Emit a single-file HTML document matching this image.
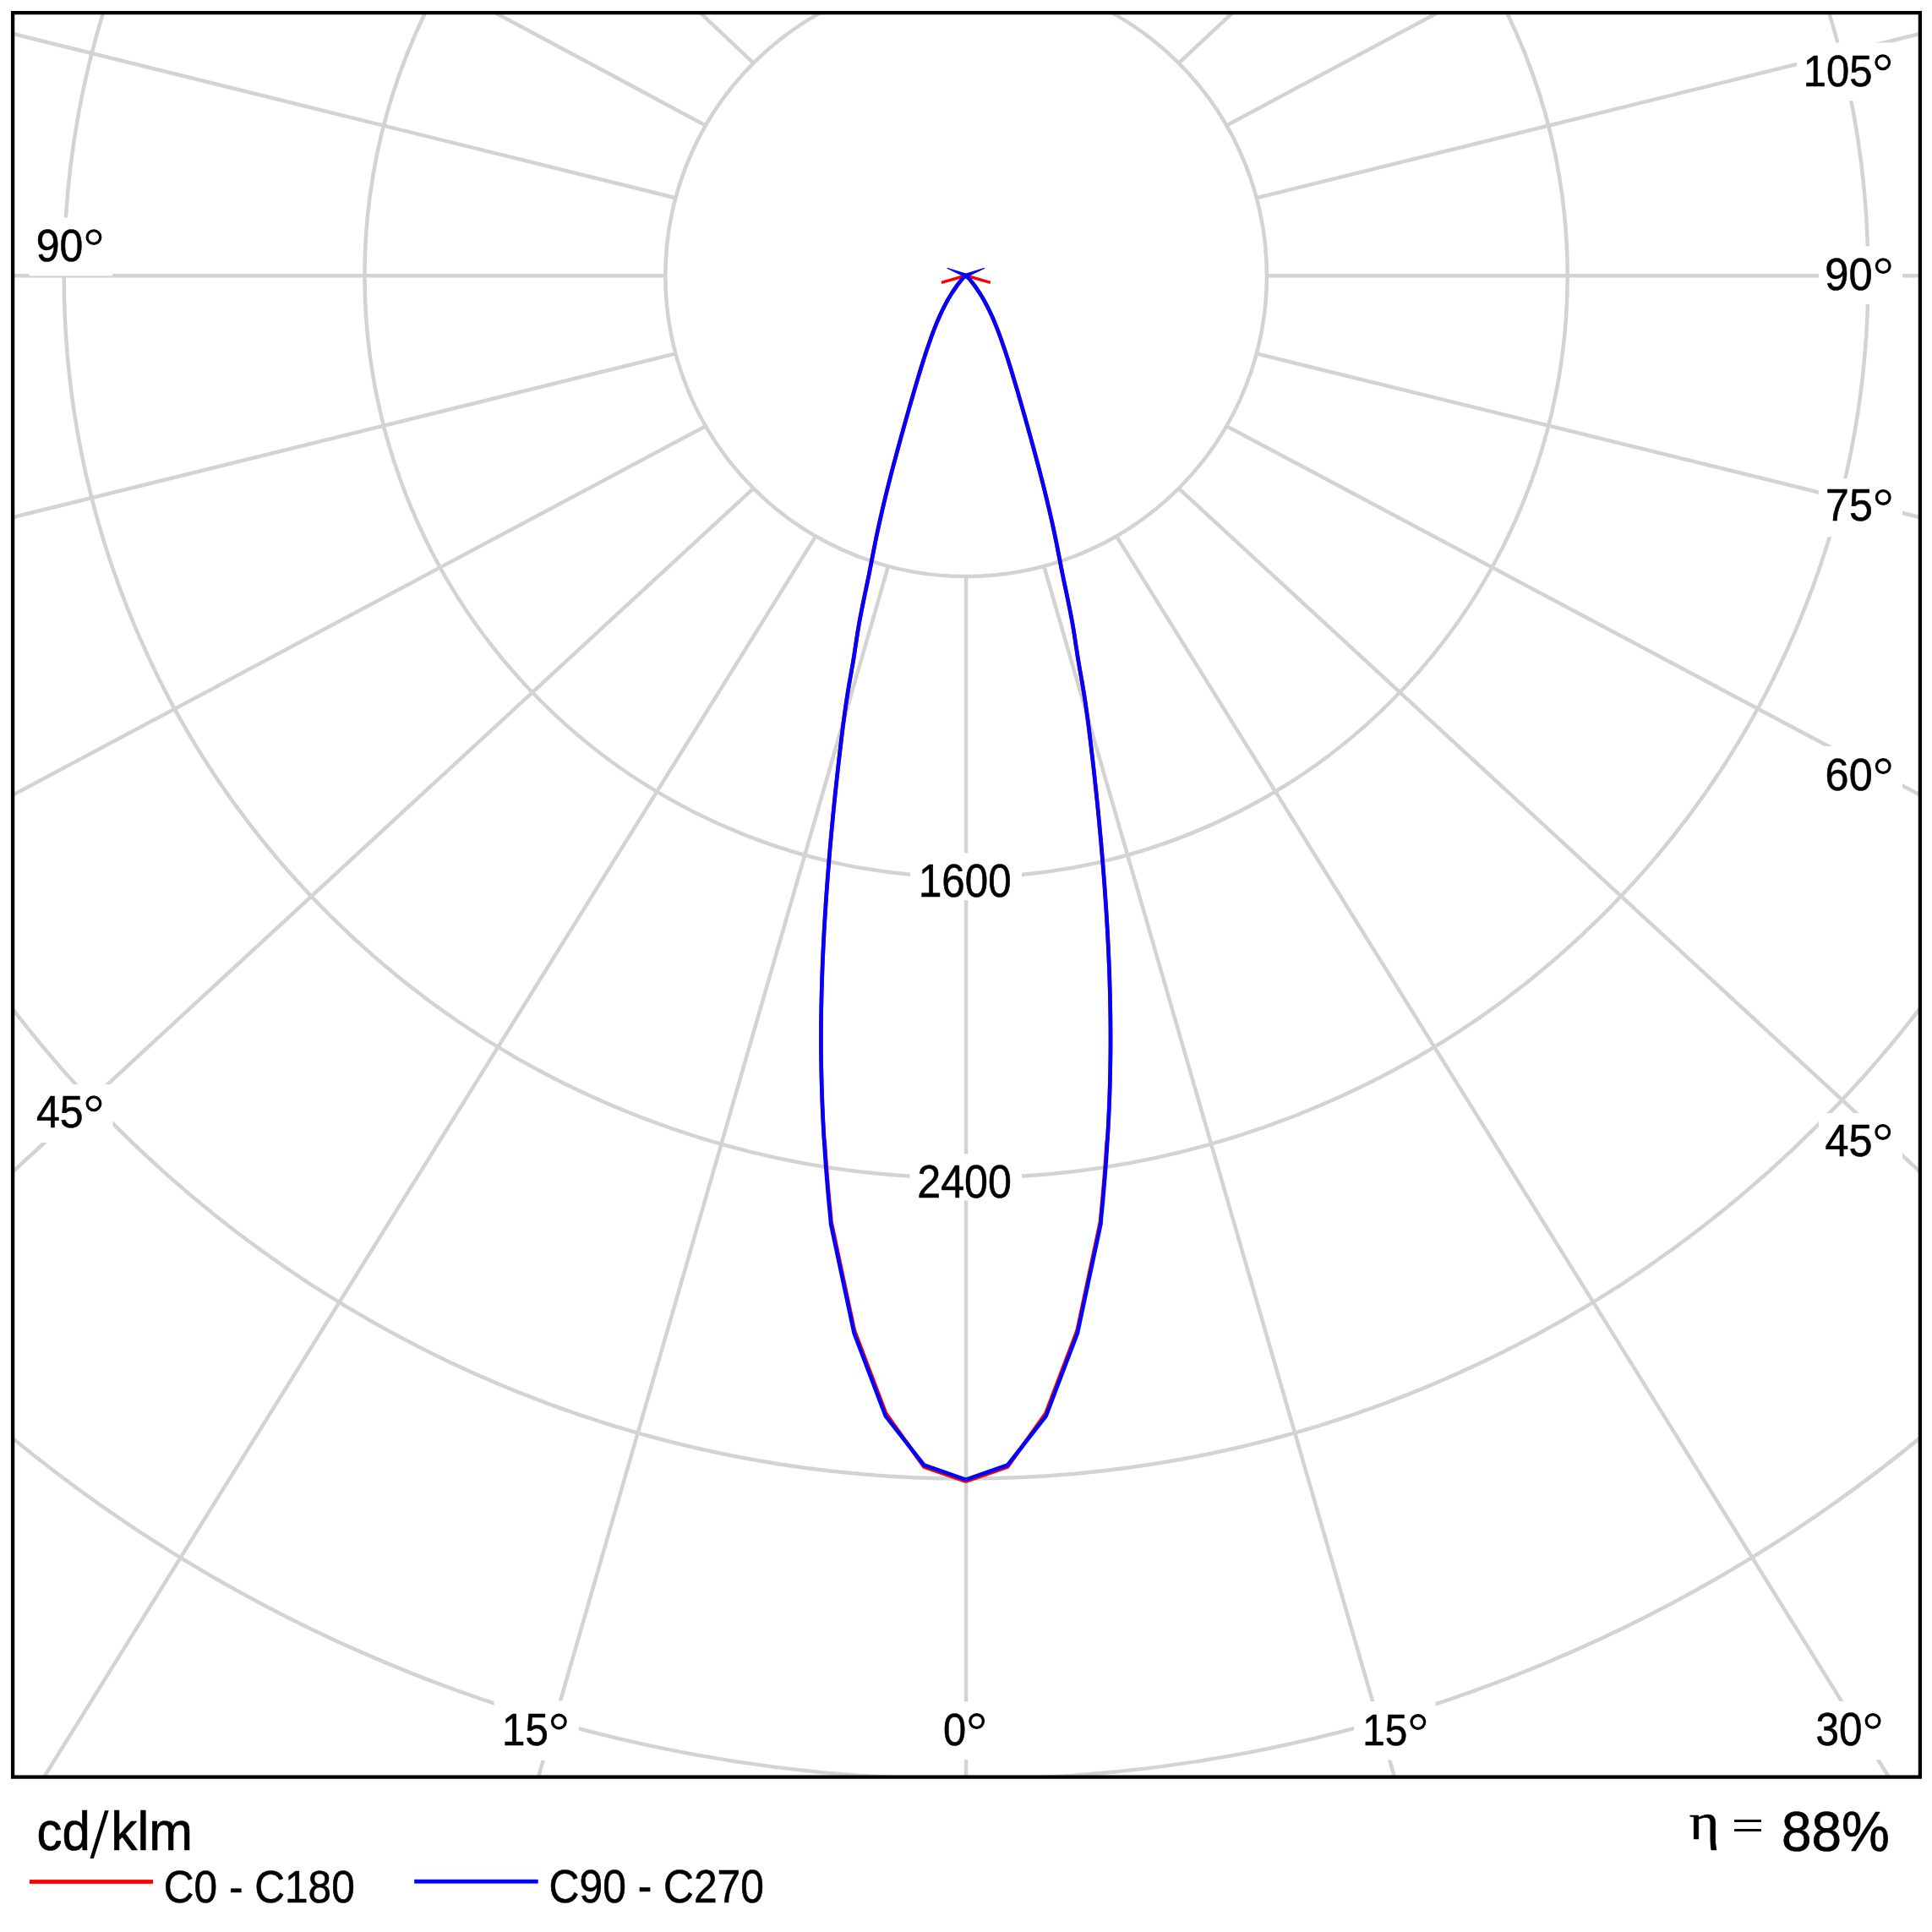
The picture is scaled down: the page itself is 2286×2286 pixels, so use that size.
<!DOCTYPE html><html><head><meta charset="utf-8"><title>Polar diagram</title>
<style>html,body{margin:0;padding:0;background:#fff;}svg{display:block;}</style></head><body>
<svg xmlns="http://www.w3.org/2000/svg" width="2286" height="2286" viewBox="0 0 2286 2286">
<defs><clipPath id="fr"><rect x="15" y="15" width="2257" height="2088"/></clipPath></defs>
<rect x="0" y="0" width="2286" height="2286" fill="#fff"/>
<g clip-path="url(#fr)" fill="none" stroke="#d3d3d3" stroke-width="4.5">
<circle cx="1143.1" cy="326.3" r="355.8"/>
<circle cx="1143.1" cy="326.3" r="711.6"/>
<circle cx="1143.1" cy="326.3" r="1067.4"/>
<circle cx="1143.1" cy="326.3" r="1423.2"/>
<circle cx="1143.1" cy="326.3" r="1779"/>
<line x1="1051.01" y1="669.98" x2="636.6" y2="2104"/>
<line x1="1235.19" y1="669.98" x2="1650.4" y2="2104"/>
<line x1="965.2" y1="634.43" x2="51.3" y2="2104"/>
<line x1="1321" y1="634.43" x2="2235.7" y2="2104"/>
<line x1="891.51" y1="577.89" x2="13" y2="1388.5"/>
<line x1="1394.69" y1="577.89" x2="2274" y2="1388.5"/>
<line x1="834.97" y1="504.2" x2="13" y2="941.8"/>
<line x1="1451.23" y1="504.2" x2="2274" y2="941.8"/>
<line x1="799.42" y1="418.39" x2="13" y2="612.6"/>
<line x1="1486.78" y1="418.39" x2="2274" y2="612.6"/>
<line x1="799.42" y1="234.21" x2="13" y2="39.4"/>
<line x1="1486.78" y1="234.21" x2="2274" y2="39.4"/>
<line x1="834.97" y1="148.4" x2="582" y2="13"/>
<line x1="1451.23" y1="148.4" x2="1705" y2="13"/>
<line x1="891.51" y1="74.71" x2="826.3" y2="13"/>
<line x1="1394.69" y1="74.71" x2="1460.7" y2="13"/>
<line x1="13" y1="326.3" x2="787.3" y2="326.3"/>
<line x1="1498.9" y1="326.3" x2="2274" y2="326.3"/>
<line x1="1143.1" y1="682.1" x2="1143.1" y2="2104"/>
</g>
<g fill="#fff">
<rect x="34.5" y="257.5" width="98.5" height="68.8"/>
<rect x="34.5" y="1283" width="99" height="69"/>
<rect x="2126" y="50.5" width="125" height="68.7"/>
<rect x="2152" y="291.3" width="99" height="68.8"/>
<rect x="2152" y="566" width="99" height="69.3"/>
<rect x="2152" y="883" width="99" height="69"/>
<rect x="2152" y="1317" width="99" height="68"/>
<rect x="2139" y="2013" width="99" height="69.3"/>
<rect x="584.6" y="2012.5" width="100.2" height="70.3"/>
<rect x="1105" y="2013.3" width="76" height="69"/>
<rect x="1601.9" y="2013" width="96.8" height="69.5"/>
<rect x="1077" y="1009.4" width="132" height="55.9"/>
<rect x="1076.6" y="1365.3" width="132.5" height="55.1"/>
</g>
<g fill="none" stroke-width="4.6" stroke-linejoin="round">
<path stroke="#f00" d="M1143.00,325.90 L1139.37,329.05 L1136.06,333.10 L1132.93,337.21 L1129.94,341.37 L1127.11,345.60 L1124.41,349.88 L1121.85,354.20 L1119.41,358.57 L1117.08,362.99 L1114.87,367.45 L1112.75,371.94 L1110.72,376.47 L1108.78,381.03 L1106.91,385.62 L1105.10,390.24 L1103.36,394.88 L1101.66,399.53 L1100.01,404.21 L1098.39,408.90 L1096.80,413.60 L1095.24,418.31 L1093.70,423.04 L1092.19,427.77 L1090.69,432.52 L1089.22,437.27 L1087.76,442.04 L1086.32,446.81 L1084.89,451.60 L1083.48,456.39 L1082.07,461.19 L1080.67,466.00 L1079.28,470.81 L1077.89,475.63 L1076.50,480.46 L1075.12,485.29 L1073.75,490.13 L1072.38,494.97 L1071.01,499.82 L1069.65,504.67 L1068.30,509.52 L1066.95,514.38 L1065.61,519.24 L1064.28,524.10 L1062.95,528.96 L1061.63,533.82 L1060.32,538.69 L1059.02,543.56 L1057.73,548.42 L1056.45,553.29 L1055.17,558.16 L1053.91,563.03 L1052.66,567.91 L1051.43,572.78 L1050.20,577.65 L1048.99,582.53 L1047.79,587.41 L1046.61,592.29 L1045.45,597.17 L1044.30,602.05 L1043.16,606.93 L1042.05,611.82 L1040.95,616.70 L1039.87,621.59 L1038.81,626.48 L1037.77,631.37 L1036.75,636.26 L1035.76,641.15 L1034.78,646.05 L1033.82,650.94 L1032.87,655.84 L1031.93,660.74 L1030.98,665.64 L1030.03,670.54 L1029.07,675.44 L1028.09,680.35 L1027.09,685.26 L1026.07,690.17 L1025.05,695.08 L1024.02,699.99 L1022.99,704.90 L1021.97,709.82 L1020.96,714.73 L1019.96,719.65 L1018.99,724.57 L1018.04,729.50 L1017.12,734.42 L1016.24,739.34 L1015.40,744.27 L1014.60,749.20 L1013.84,754.13 L1013.10,759.07 L1012.36,764.00 L1011.62,768.94 L1010.87,773.88 L1010.08,778.82 L1009.26,783.76 L1008.41,788.70 L1007.55,793.65 L1006.67,798.59 L1005.80,803.54 L1004.93,808.49 L1004.09,813.44 L1003.27,818.39 L1002.48,823.35 L1001.72,828.30 L1000.98,833.26 L1000.27,838.22 L999.58,843.18 L998.91,848.14 L998.25,853.11 L997.61,858.07 L996.98,863.04 L996.37,868.00 L995.76,872.97 L995.15,877.94 L994.56,882.91 L993.97,887.88 L993.38,892.86 L992.81,897.83 L992.24,902.81 L991.67,907.79 L991.12,912.76 L990.57,917.74 L990.02,922.72 L989.49,927.70 L988.96,932.69 L988.43,937.67 L987.92,942.66 L987.41,947.64 L986.90,952.63 L986.41,957.62 L985.92,962.60 L985.43,967.59 L984.96,972.58 L984.49,977.58 L984.03,982.57 L983.57,987.56 L983.12,992.56 L982.68,997.55 L982.24,1002.55 L981.81,1007.54 L981.39,1012.54 L980.97,1017.54 L980.57,1022.54 L980.17,1027.53 L979.77,1032.53 L979.38,1037.54 L979.01,1042.54 L978.63,1047.54 L978.27,1052.54 L977.91,1057.54 L977.57,1062.55 L977.23,1067.55 L976.90,1072.56 L976.57,1077.56 L976.26,1082.57 L975.95,1087.57 L975.66,1092.58 L975.37,1097.58 L975.09,1102.59 L974.82,1107.60 L974.56,1112.61 L974.31,1117.62 L974.07,1122.62 L973.84,1127.63 L973.62,1132.64 L973.41,1137.65 L973.21,1142.66 L973.02,1147.67 L972.84,1152.68 L972.67,1157.69 L972.51,1162.70 L972.36,1167.71 L972.22,1172.72 L972.09,1177.73 L971.98,1182.74 L971.88,1187.75 L971.78,1192.76 L971.70,1197.77 L971.63,1202.78 L971.58,1207.79 L971.53,1212.80 L971.50,1217.82 L971.48,1222.83 L971.47,1227.84 L971.47,1232.85 L971.49,1237.86 L971.52,1242.87 L971.56,1247.87 L971.62,1252.88 L971.68,1257.89 L971.77,1262.90 L971.86,1267.91 L971.97,1272.92 L972.09,1277.93 L972.22,1282.93 L972.36,1287.94 L972.52,1292.95 L972.69,1297.95 L972.87,1302.96 L973.07,1307.97 L973.27,1312.97 L973.49,1317.98 L973.72,1322.98 L973.97,1327.98 L974.22,1332.99 L974.49,1337.99 L974.77,1342.99 L975.06,1347.99 L975.78,1350.43 L976.09,1355.41 L976.42,1360.40 L976.75,1365.39 L977.10,1370.37 L977.46,1375.36 L977.82,1380.34 L978.20,1385.32 L978.60,1390.31 L979.00,1395.29 L979.41,1400.27 L979.83,1405.25 L980.27,1410.23 L980.71,1415.21 L981.17,1420.18 L981.64,1425.16 L982.11,1430.13 L982.60,1435.11 L983.10,1440.08 L983.40,1445.10 L1010.93,1574.37 L1048.14,1672.33 L1093.23,1735.47 L1143.10,1752.89"/>
<path stroke="#f00" d="M1142.50,325.90 L1146.13,329.05 L1149.44,333.10 L1152.57,337.21 L1155.56,341.37 L1158.39,345.60 L1161.09,349.88 L1163.65,354.20 L1166.09,358.57 L1168.42,362.99 L1170.63,367.45 L1172.75,371.94 L1174.78,376.47 L1176.72,381.03 L1178.59,385.62 L1180.40,390.24 L1182.14,394.88 L1183.84,399.53 L1185.49,404.21 L1187.11,408.90 L1188.70,413.60 L1190.26,418.31 L1191.80,423.04 L1193.31,427.77 L1194.81,432.52 L1196.28,437.27 L1197.74,442.04 L1199.18,446.81 L1200.61,451.60 L1202.02,456.39 L1203.43,461.19 L1204.83,466.00 L1206.22,470.81 L1207.61,475.63 L1209.00,480.46 L1210.38,485.29 L1211.75,490.13 L1213.12,494.97 L1214.49,499.82 L1215.85,504.67 L1217.20,509.52 L1218.55,514.38 L1219.89,519.24 L1221.22,524.10 L1222.55,528.96 L1223.87,533.82 L1225.18,538.69 L1226.48,543.56 L1227.77,548.42 L1229.05,553.29 L1230.33,558.16 L1231.59,563.03 L1232.84,567.91 L1234.07,572.78 L1235.30,577.65 L1236.51,582.53 L1237.71,587.41 L1238.89,592.29 L1240.05,597.17 L1241.20,602.05 L1242.34,606.93 L1243.45,611.82 L1244.55,616.70 L1245.63,621.59 L1246.69,626.48 L1247.73,631.37 L1248.75,636.26 L1249.74,641.15 L1250.72,646.05 L1251.68,650.94 L1252.63,655.84 L1253.57,660.74 L1254.52,665.64 L1255.47,670.54 L1256.43,675.44 L1257.41,680.35 L1258.41,685.26 L1259.43,690.17 L1260.45,695.08 L1261.48,699.99 L1262.51,704.90 L1263.53,709.82 L1264.54,714.73 L1265.54,719.65 L1266.51,724.57 L1267.46,729.50 L1268.38,734.42 L1269.26,739.34 L1270.10,744.27 L1270.90,749.20 L1271.66,754.13 L1272.40,759.07 L1273.14,764.00 L1273.88,768.94 L1274.63,773.88 L1275.42,778.82 L1276.24,783.76 L1277.09,788.70 L1277.95,793.65 L1278.83,798.59 L1279.70,803.54 L1280.57,808.49 L1281.41,813.44 L1282.23,818.39 L1283.02,823.35 L1283.78,828.30 L1284.52,833.26 L1285.23,838.22 L1285.92,843.18 L1286.59,848.14 L1287.25,853.11 L1287.89,858.07 L1288.52,863.04 L1289.13,868.00 L1289.74,872.97 L1290.35,877.94 L1290.94,882.91 L1291.53,887.88 L1292.12,892.86 L1292.69,897.83 L1293.26,902.81 L1293.83,907.79 L1294.38,912.76 L1294.93,917.74 L1295.48,922.72 L1296.01,927.70 L1296.54,932.69 L1297.07,937.67 L1297.58,942.66 L1298.09,947.64 L1298.60,952.63 L1299.09,957.62 L1299.58,962.60 L1300.07,967.59 L1300.54,972.58 L1301.01,977.58 L1301.47,982.57 L1301.93,987.56 L1302.38,992.56 L1302.82,997.55 L1303.26,1002.55 L1303.69,1007.54 L1304.11,1012.54 L1304.53,1017.54 L1304.93,1022.54 L1305.33,1027.53 L1305.73,1032.53 L1306.12,1037.54 L1306.49,1042.54 L1306.87,1047.54 L1307.23,1052.54 L1307.59,1057.54 L1307.93,1062.55 L1308.27,1067.55 L1308.60,1072.56 L1308.93,1077.56 L1309.24,1082.57 L1309.55,1087.57 L1309.84,1092.58 L1310.13,1097.58 L1310.41,1102.59 L1310.68,1107.60 L1310.94,1112.61 L1311.19,1117.62 L1311.43,1122.62 L1311.66,1127.63 L1311.88,1132.64 L1312.09,1137.65 L1312.29,1142.66 L1312.48,1147.67 L1312.66,1152.68 L1312.83,1157.69 L1312.99,1162.70 L1313.14,1167.71 L1313.28,1172.72 L1313.41,1177.73 L1313.52,1182.74 L1313.62,1187.75 L1313.72,1192.76 L1313.80,1197.77 L1313.87,1202.78 L1313.92,1207.79 L1313.97,1212.80 L1314.00,1217.82 L1314.02,1222.83 L1314.03,1227.84 L1314.03,1232.85 L1314.01,1237.86 L1313.98,1242.87 L1313.94,1247.87 L1313.88,1252.88 L1313.82,1257.89 L1313.73,1262.90 L1313.64,1267.91 L1313.53,1272.92 L1313.41,1277.93 L1313.28,1282.93 L1313.14,1287.94 L1312.98,1292.95 L1312.81,1297.95 L1312.63,1302.96 L1312.43,1307.97 L1312.23,1312.97 L1312.01,1317.98 L1311.78,1322.98 L1311.53,1327.98 L1311.28,1332.99 L1311.01,1337.99 L1310.73,1342.99 L1310.44,1347.99 L1309.72,1350.43 L1309.41,1355.41 L1309.08,1360.40 L1308.75,1365.39 L1308.40,1370.37 L1308.04,1375.36 L1307.68,1380.34 L1307.30,1385.32 L1306.90,1390.31 L1306.50,1395.29 L1306.09,1400.27 L1305.67,1405.25 L1305.23,1410.23 L1304.79,1415.21 L1304.33,1420.18 L1303.86,1425.16 L1303.39,1430.13 L1302.90,1435.11 L1302.40,1440.08 L1302.10,1445.10 L1274.57,1574.37 L1237.36,1672.33 L1192.27,1735.47 L1142.40,1752.89"/>
<path stroke="#f00" stroke-width="3.4" d="M1113.90,334.40 L1142.90,326.00 L1171.90,334.40" stroke-linejoin="round"/>
<path stroke="#00f" d="M1143.00,325.90 L1139.37,329.05 L1136.06,333.10 L1132.93,337.21 L1129.94,341.37 L1127.11,345.60 L1124.41,349.88 L1121.85,354.20 L1119.41,358.57 L1117.08,362.99 L1114.87,367.45 L1112.75,371.94 L1110.72,376.47 L1108.78,381.03 L1106.91,385.62 L1105.10,390.24 L1103.36,394.88 L1101.66,399.53 L1100.01,404.21 L1098.39,408.90 L1096.80,413.60 L1095.24,418.31 L1093.70,423.04 L1092.19,427.77 L1090.69,432.52 L1089.22,437.27 L1087.76,442.04 L1086.32,446.81 L1084.89,451.60 L1083.48,456.39 L1082.07,461.19 L1080.67,466.00 L1079.28,470.81 L1077.89,475.63 L1076.50,480.46 L1075.12,485.29 L1073.75,490.13 L1072.38,494.97 L1071.01,499.82 L1069.65,504.67 L1068.30,509.52 L1066.95,514.38 L1065.61,519.24 L1064.28,524.10 L1062.95,528.96 L1061.63,533.82 L1060.32,538.69 L1059.02,543.56 L1057.73,548.42 L1056.45,553.29 L1055.17,558.16 L1053.91,563.03 L1052.66,567.91 L1051.43,572.78 L1050.20,577.65 L1048.99,582.53 L1047.79,587.41 L1046.61,592.29 L1045.45,597.17 L1044.30,602.05 L1043.16,606.93 L1042.05,611.82 L1040.95,616.70 L1039.87,621.59 L1038.81,626.48 L1037.77,631.37 L1036.75,636.26 L1035.76,641.15 L1034.78,646.05 L1033.82,650.94 L1032.87,655.84 L1031.93,660.74 L1030.98,665.64 L1030.03,670.54 L1029.07,675.44 L1028.09,680.35 L1027.09,685.26 L1026.07,690.17 L1025.05,695.08 L1024.02,699.99 L1022.99,704.90 L1021.97,709.82 L1020.96,714.73 L1019.96,719.65 L1018.99,724.57 L1018.04,729.50 L1017.12,734.42 L1016.24,739.34 L1015.40,744.27 L1014.60,749.20 L1013.84,754.13 L1013.10,759.07 L1012.36,764.00 L1011.62,768.94 L1010.87,773.88 L1010.08,778.82 L1009.26,783.76 L1008.41,788.70 L1007.55,793.65 L1006.67,798.59 L1005.80,803.54 L1004.93,808.49 L1004.09,813.44 L1003.27,818.39 L1002.48,823.35 L1001.72,828.30 L1000.98,833.26 L1000.27,838.22 L999.58,843.18 L998.91,848.14 L998.25,853.11 L997.61,858.07 L996.98,863.04 L996.37,868.00 L995.76,872.97 L995.15,877.94 L994.56,882.91 L993.97,887.88 L993.38,892.86 L992.81,897.83 L992.24,902.81 L991.67,907.79 L991.12,912.76 L990.57,917.74 L990.02,922.72 L989.49,927.70 L988.96,932.69 L988.43,937.67 L987.92,942.66 L987.41,947.64 L986.90,952.63 L986.41,957.62 L985.92,962.60 L985.43,967.59 L984.96,972.58 L984.49,977.58 L984.03,982.57 L983.57,987.56 L983.12,992.56 L982.68,997.55 L982.24,1002.55 L981.81,1007.54 L981.39,1012.54 L980.97,1017.54 L980.57,1022.54 L980.17,1027.53 L979.77,1032.53 L979.38,1037.54 L979.01,1042.54 L978.63,1047.54 L978.27,1052.54 L977.91,1057.54 L977.57,1062.55 L977.23,1067.55 L976.90,1072.56 L976.57,1077.56 L976.26,1082.57 L975.95,1087.57 L975.66,1092.58 L975.37,1097.58 L975.09,1102.59 L974.82,1107.60 L974.56,1112.61 L974.31,1117.62 L974.07,1122.62 L973.84,1127.63 L973.62,1132.64 L973.41,1137.65 L973.21,1142.66 L973.02,1147.67 L972.84,1152.68 L972.67,1157.69 L972.51,1162.70 L972.36,1167.71 L972.22,1172.72 L972.09,1177.73 L971.98,1182.74 L971.88,1187.75 L971.78,1192.76 L971.70,1197.77 L971.63,1202.78 L971.58,1207.79 L971.53,1212.80 L971.50,1217.82 L971.48,1222.83 L971.47,1227.84 L971.47,1232.85 L971.49,1237.86 L971.52,1242.87 L971.56,1247.87 L971.62,1252.88 L971.68,1257.89 L971.77,1262.90 L971.86,1267.91 L971.97,1272.92 L972.09,1277.93 L972.22,1282.93 L972.36,1287.94 L972.52,1292.95 L972.69,1297.95 L972.87,1302.96 L973.07,1307.97 L973.27,1312.97 L973.49,1317.98 L973.72,1322.98 L973.97,1327.98 L974.22,1332.99 L974.49,1337.99 L974.77,1342.99 L975.06,1347.99 L975.36,1352.99 L975.67,1357.99 L976.00,1362.99 L976.33,1367.99 L976.68,1372.99 L977.04,1377.99 L977.41,1382.98 L977.79,1387.98 L978.18,1392.97 L978.59,1397.97 L979.00,1402.96 L979.43,1407.95 L979.86,1412.94 L980.31,1417.93 L980.76,1422.92 L981.23,1427.91 L981.71,1432.90 L982.20,1437.89 L982.70,1442.87 L983.00,1447.90 L1010.60,1577.50 L1047.90,1675.70 L1093.30,1733.50 L1143.10,1750.90"/>
<path stroke="#00f" d="M1142.50,325.90 L1146.13,329.05 L1149.44,333.10 L1152.57,337.21 L1155.56,341.37 L1158.39,345.60 L1161.09,349.88 L1163.65,354.20 L1166.09,358.57 L1168.42,362.99 L1170.63,367.45 L1172.75,371.94 L1174.78,376.47 L1176.72,381.03 L1178.59,385.62 L1180.40,390.24 L1182.14,394.88 L1183.84,399.53 L1185.49,404.21 L1187.11,408.90 L1188.70,413.60 L1190.26,418.31 L1191.80,423.04 L1193.31,427.77 L1194.81,432.52 L1196.28,437.27 L1197.74,442.04 L1199.18,446.81 L1200.61,451.60 L1202.02,456.39 L1203.43,461.19 L1204.83,466.00 L1206.22,470.81 L1207.61,475.63 L1209.00,480.46 L1210.38,485.29 L1211.75,490.13 L1213.12,494.97 L1214.49,499.82 L1215.85,504.67 L1217.20,509.52 L1218.55,514.38 L1219.89,519.24 L1221.22,524.10 L1222.55,528.96 L1223.87,533.82 L1225.18,538.69 L1226.48,543.56 L1227.77,548.42 L1229.05,553.29 L1230.33,558.16 L1231.59,563.03 L1232.84,567.91 L1234.07,572.78 L1235.30,577.65 L1236.51,582.53 L1237.71,587.41 L1238.89,592.29 L1240.05,597.17 L1241.20,602.05 L1242.34,606.93 L1243.45,611.82 L1244.55,616.70 L1245.63,621.59 L1246.69,626.48 L1247.73,631.37 L1248.75,636.26 L1249.74,641.15 L1250.72,646.05 L1251.68,650.94 L1252.63,655.84 L1253.57,660.74 L1254.52,665.64 L1255.47,670.54 L1256.43,675.44 L1257.41,680.35 L1258.41,685.26 L1259.43,690.17 L1260.45,695.08 L1261.48,699.99 L1262.51,704.90 L1263.53,709.82 L1264.54,714.73 L1265.54,719.65 L1266.51,724.57 L1267.46,729.50 L1268.38,734.42 L1269.26,739.34 L1270.10,744.27 L1270.90,749.20 L1271.66,754.13 L1272.40,759.07 L1273.14,764.00 L1273.88,768.94 L1274.63,773.88 L1275.42,778.82 L1276.24,783.76 L1277.09,788.70 L1277.95,793.65 L1278.83,798.59 L1279.70,803.54 L1280.57,808.49 L1281.41,813.44 L1282.23,818.39 L1283.02,823.35 L1283.78,828.30 L1284.52,833.26 L1285.23,838.22 L1285.92,843.18 L1286.59,848.14 L1287.25,853.11 L1287.89,858.07 L1288.52,863.04 L1289.13,868.00 L1289.74,872.97 L1290.35,877.94 L1290.94,882.91 L1291.53,887.88 L1292.12,892.86 L1292.69,897.83 L1293.26,902.81 L1293.83,907.79 L1294.38,912.76 L1294.93,917.74 L1295.48,922.72 L1296.01,927.70 L1296.54,932.69 L1297.07,937.67 L1297.58,942.66 L1298.09,947.64 L1298.60,952.63 L1299.09,957.62 L1299.58,962.60 L1300.07,967.59 L1300.54,972.58 L1301.01,977.58 L1301.47,982.57 L1301.93,987.56 L1302.38,992.56 L1302.82,997.55 L1303.26,1002.55 L1303.69,1007.54 L1304.11,1012.54 L1304.53,1017.54 L1304.93,1022.54 L1305.33,1027.53 L1305.73,1032.53 L1306.12,1037.54 L1306.49,1042.54 L1306.87,1047.54 L1307.23,1052.54 L1307.59,1057.54 L1307.93,1062.55 L1308.27,1067.55 L1308.60,1072.56 L1308.93,1077.56 L1309.24,1082.57 L1309.55,1087.57 L1309.84,1092.58 L1310.13,1097.58 L1310.41,1102.59 L1310.68,1107.60 L1310.94,1112.61 L1311.19,1117.62 L1311.43,1122.62 L1311.66,1127.63 L1311.88,1132.64 L1312.09,1137.65 L1312.29,1142.66 L1312.48,1147.67 L1312.66,1152.68 L1312.83,1157.69 L1312.99,1162.70 L1313.14,1167.71 L1313.28,1172.72 L1313.41,1177.73 L1313.52,1182.74 L1313.62,1187.75 L1313.72,1192.76 L1313.80,1197.77 L1313.87,1202.78 L1313.92,1207.79 L1313.97,1212.80 L1314.00,1217.82 L1314.02,1222.83 L1314.03,1227.84 L1314.03,1232.85 L1314.01,1237.86 L1313.98,1242.87 L1313.94,1247.87 L1313.88,1252.88 L1313.82,1257.89 L1313.73,1262.90 L1313.64,1267.91 L1313.53,1272.92 L1313.41,1277.93 L1313.28,1282.93 L1313.14,1287.94 L1312.98,1292.95 L1312.81,1297.95 L1312.63,1302.96 L1312.43,1307.97 L1312.23,1312.97 L1312.01,1317.98 L1311.78,1322.98 L1311.53,1327.98 L1311.28,1332.99 L1311.01,1337.99 L1310.73,1342.99 L1310.44,1347.99 L1310.14,1352.99 L1309.83,1357.99 L1309.50,1362.99 L1309.17,1367.99 L1308.82,1372.99 L1308.46,1377.99 L1308.09,1382.98 L1307.71,1387.98 L1307.32,1392.97 L1306.91,1397.97 L1306.50,1402.96 L1306.07,1407.95 L1305.64,1412.94 L1305.19,1417.93 L1304.74,1422.92 L1304.27,1427.91 L1303.79,1432.90 L1303.30,1437.89 L1302.80,1442.87 L1302.50,1447.90 L1274.90,1577.50 L1237.60,1675.70 L1192.20,1733.50 L1142.40,1750.90"/>
<path fill="#00f" stroke="none" d="M1120.52,317.77 L1142.06,328.14 L1143.74,323.86 L1120.88,316.83Z"/>
<path fill="#00f" stroke="none" d="M1164.82,316.83 L1142.06,323.86 L1143.74,328.14 L1165.18,317.77Z"/>
</g>
<rect x="15.1" y="15.1" width="2256.8" height="2087.5" fill="none" stroke="#000" stroke-width="4.3"/>
<rect x="35" y="2224.1" width="146" height="4.8" fill="#f00"/>
<rect x="490.2" y="2223.8" width="146.5" height="4.8" fill="#00f"/>
<rect x="2052.1" y="2153.1" width="31.9" height="2.9" fill="#000"/>
<path d="M124,2142.2 L128.7,2142.2 L110.9,2199 L106.4,2199 Z" fill="#000"/>
<rect x="2052.1" y="2164.1" width="31.9" height="2.9" fill="#000"/>
<g fill="#000" stroke="#000" stroke-width="0.011" stroke-linejoin="round">
<text transform="matrix(50.0000 0 0 54.5070 42.75 309.35)" font-family="Liberation Sans" font-size="1">90</text>
<text transform="matrix(49.9522 0 0 53.5714 43.05 1334.06)" font-family="Liberation Sans" font-size="1">45</text>
<text transform="matrix(48.9032 0 0 52.3944 2133.83 101.78)" font-family="Liberation Sans" font-size="1">105</text>
<text transform="matrix(50.6796 0 0 54.3662 2159.32 343.26)" font-family="Liberation Sans" font-size="1">90</text>
<text transform="matrix(50.1961 0 0 53.1429 2160.09 616.47)" font-family="Liberation Sans" font-size="1">75</text>
<text transform="matrix(50.4390 0 0 54.2254 2159.58 935.06)" font-family="Liberation Sans" font-size="1">60</text>
<text transform="matrix(50.3349 0 0 53.8571 2159.44 1367.96)" font-family="Liberation Sans" font-size="1">45</text>
<text transform="matrix(49.4686 0 0 54.7887 2148.42 2065.25)" font-family="Liberation Sans" font-size="1">30</text>
<text transform="matrix(49.3467 0 0 53.2857 594.10 2065.17)" font-family="Liberation Sans" font-size="1">15</text>
<text transform="matrix(48.8421 0 0 54.5070 1116.05 2065.25)" font-family="Liberation Sans" font-size="1">0</text>
<text transform="matrix(47.7387 0 0 52.1429 1612.32 2064.88)" font-family="Liberation Sans" font-size="1">15</text>
<text transform="matrix(49.2891 0 0 54.7887 1086.90 1061.45)" font-family="Liberation Sans" font-size="1">1600</text>
<text transform="matrix(50.2576 0 0 54.7887 1085.19 1417.35)" font-family="Liberation Sans" font-size="1">2400</text>
<text transform="matrix(60.0000 0 0 64.6259 43.40 2188.85)" font-family="Liberation Sans" font-size="1">cd</text>
<text transform="matrix(62.1754 0 0 65.2414 131.36 2189.30)" font-family="Liberation Sans" font-size="1">klm</text>
<text transform="matrix(49.5749 0 0 54.3662 193.82 2251.06)" font-family="Liberation Sans" font-size="1">C0 - C180</text>
<text transform="matrix(49.7512 0 0 55.3521 649.61 2251.35)" font-family="Liberation Sans" font-size="1">C90 - C270</text>
<text transform="matrix(63.8542 0 0 66.7606 2108.03 2189.53)" font-family="Liberation Sans" font-size="1">88%</text>
<text transform="matrix(68.1319 0 0 61.6176 1998.68 2175.76)" font-family="Liberation Serif" font-size="1">η</text>
</g>
<g fill="none" stroke="#000" stroke-width="3.3">
<circle cx="110.95" cy="280.65" r="7.80"/>
<circle cx="110.95" cy="1305.75" r="7.80"/>
<circle cx="2227.75" cy="73.75" r="7.80"/>
<circle cx="2228.25" cy="314.65" r="7.80"/>
<circle cx="2228.25" cy="588.45" r="7.80"/>
<circle cx="2228.25" cy="906.55" r="7.80"/>
<circle cx="2227.75" cy="1339.45" r="7.80"/>
<circle cx="2216.05" cy="2036.35" r="7.80"/>
<circle cx="661.35" cy="2037.05" r="7.80"/>
<circle cx="1155.65" cy="2036.55" r="7.80"/>
<circle cx="1677.85" cy="2037.55" r="7.80"/>
</g>
</svg></body></html>
